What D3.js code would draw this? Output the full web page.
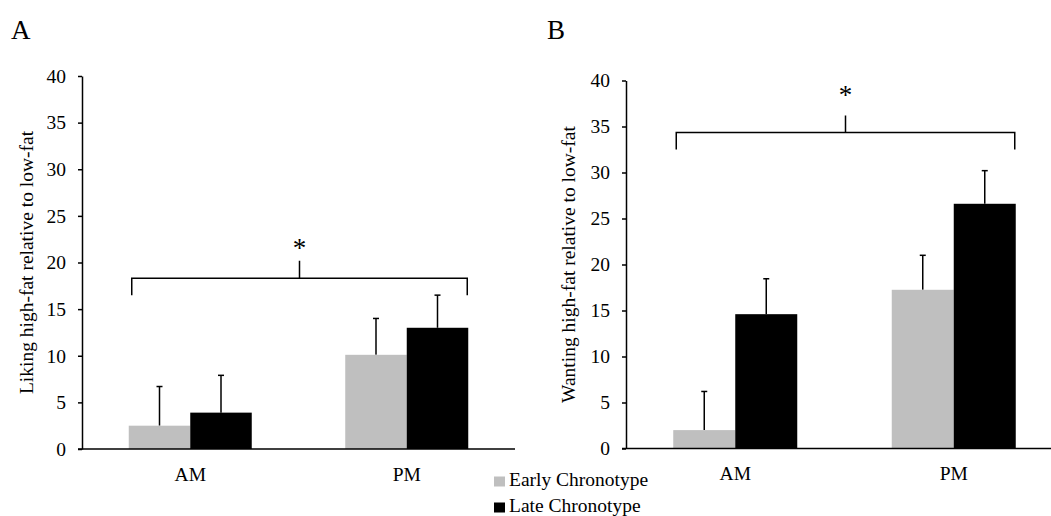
<!DOCTYPE html>
<html>
<head>
<meta charset="utf-8">
<script src="https://cdn.jsdelivr.net/npm/d3@7"></script>
<style>
  html, body { margin: 0; padding: 0; background: #fff; }
  svg { display: block; }
  svg text { font-family: "Liberation Serif", "Times New Roman", serif !important; fill: #000; }
</style>
</head>
<body>
<svg id="chart" width="1051" height="516"></svg>
<script>
// ---- Data ----
const categories = ["AM", "PM"];
const seriesNames = ["Early Chronotype", "Late Chronotype"];
const seriesColors = ["#bfbfbf", "#000000"];
const yTicks = [0, 5, 10, 15, 20, 25, 30, 35, 40];

// Panel A: Liking
const likingEarly = [2.5, 10.1];
const likingEarlyErr = [4.2, 3.9];
const likingLate = [3.9, 13.0];
const likingLateErr = [4.0, 3.5];
const likingBracket = { level: 18.3, foot: 16.5, tick: 20.2, star: 20.6 };

// Panel B: Wanting
const wantingEarly = [2.0, 17.25];
const wantingEarlyErr = [4.2, 3.75];
const wantingLate = [14.6, 26.6];
const wantingLateErr = [3.85, 3.6];
const wantingBracket = { level: 34.35, foot: 32.5, tick: 36.2, star: 37.4 };

const FONT = '"Liberation Serif", "Times New Roman", serif';
const FS = 19.5;
const svg = d3.select("#chart");

function drawPanel(cfg) {
  const g = svg.append("g");
  const y = d3.scaleLinear().domain([0, 40]).range([cfg.y0, cfg.y40]);
  const x = d3.scaleBand().domain(categories).range([cfg.xl, cfg.xl + 2 * cfg.band]).paddingInner(0).paddingOuter(0);
  const xs = d3.scaleBand().domain(seriesNames).range([0, 2 * cfg.barW]);

  const rows = [];
  categories.forEach((c, i) => {
    rows.push({ c, s: seriesNames[0], v: cfg.early[i], e: cfg.earlyErr[i], col: seriesColors[0] });
    rows.push({ c, s: seriesNames[1], v: cfg.late[i], e: cfg.lateErr[i], col: seriesColors[1] });
  });
  const off = (x.bandwidth() - 2 * cfg.barW) / 2;

  // error bars
  rows.forEach(r => {
    const cx = x(r.c) + off + xs(r.s) + xs.bandwidth() / 2;
    g.append("line").attr("x1", cx).attr("x2", cx)
      .attr("y1", y(r.v)).attr("y2", y(r.v + r.e))
      .attr("stroke", "#000").attr("stroke-width", 1.5);
    g.append("line").attr("x1", cx - 3).attr("x2", cx + 3)
      .attr("y1", y(r.v + r.e)).attr("y2", y(r.v + r.e))
      .attr("stroke", "#000").attr("stroke-width", 1.5);
  });

  g.selectAll("rect.bar").data(rows).enter().append("rect")
    .attr("class", "bar")
    .attr("x", r => x(r.c) + off + xs(r.s))
    .attr("width", xs.bandwidth())
    .attr("y", r => y(r.v))
    .attr("height", r => y(0) - y(r.v))
    .attr("fill", r => r.col);

  // y axis
  const yAxis = d3.axisLeft(y).tickValues(yTicks).tickSize(4).tickPadding(12).tickSizeOuter(0);
  const ya = g.append("g").attr("transform", `translate(${cfg.xl},0)`).call(yAxis)
    .attr("font-family", FONT).attr("font-size", FS);
  ya.select(".domain").attr("stroke", "#000").attr("stroke-width", 1.5);
  ya.selectAll(".tick line").attr("stroke", "#000").attr("stroke-width", 1.5);
  ya.selectAll(".tick text").attr("fill", "#000");

  // x axis
  const xAxis = d3.axisBottom(x).tickSize(0).tickPadding(18).tickSizeOuter(0);
  const xa = g.append("g").attr("transform", `translate(0,${y(0)})`).call(xAxis)
    .attr("font-family", FONT).attr("font-size", FS);
  xa.select(".domain").attr("d", `M${cfg.xl - 4},0H${cfg.xEnd}`).attr("stroke", "#000").attr("stroke-width", 1.5);
  xa.selectAll(".tick text").attr("fill", "#000");

  // y label
  g.append("text")
    .attr("transform", `translate(${cfg.labelX},${(cfg.y0 + cfg.y40) / 2}) rotate(-90)`)
    .attr("text-anchor", "middle").attr("dominant-baseline", "central")
    .attr("font-family", FONT).attr("font-size", FS).text(cfg.ylabel);

  // significance bracket
  const xLeft = x(categories[0]) + off + xs(seriesNames[0]) + 3;
  const xRight = x(categories[1]) + off + xs(seriesNames[1]) + xs.bandwidth() - 1;
  const mid = (xLeft + xRight) / 2;
  const b = cfg.bracket;
  g.append("path")
    .attr("d", `M${xLeft},${y(b.foot)}V${y(b.level)}H${xRight}V${y(b.foot)}M${mid},${y(b.level)}V${y(b.tick)}`)
    .attr("fill", "none").attr("stroke", "#000").attr("stroke-width", 1.5);
  g.append("text").attr("x", mid).attr("y", y(b.star))
    .attr("text-anchor", "middle").attr("font-family", FONT).attr("font-size", 27).text("*");

  // panel letter
  g.append("text").attr("x", cfg.letterX).attr("y", 39).attr("font-family", FONT).attr("font-size", 27).text(cfg.letter);
}

drawPanel({
  letter: "A", letterX: 11,
  xl: 82, band: 216.5, barW: 61.5, xEnd: 515,
  y0: 449, y40: 76,
  labelX: 26,
  ylabel: "Liking high-fat relative to low-fat",
  early: likingEarly, earlyErr: likingEarlyErr, late: likingLate, lateErr: likingLateErr,
  bracket: likingBracket
});

drawPanel({
  letter: "B", letterX: 547,
  xl: 626, band: 218.5, barW: 62, xEnd: 1051,
  y0: 448.5, y40: 80.5,
  labelX: 568,
  ylabel: "Wanting high-fat relative to low-fat",
  early: wantingEarly, earlyErr: wantingEarlyErr, late: wantingLate, lateErr: wantingLateErr,
  bracket: wantingBracket
});

// legend
const legend = svg.append("g");
seriesNames.forEach((name, i) => {
  const ly = 476.5 + i * 26;
  legend.append("rect").attr("x", 494).attr("y", ly).attr("width", 11).attr("height", 10).attr("fill", seriesColors[i]);
  legend.append("text").attr("x", 509).attr("y", ly + 9.5).attr("font-family", FONT).attr("font-size", FS).text(name);
});
</script>
</body>
</html>
